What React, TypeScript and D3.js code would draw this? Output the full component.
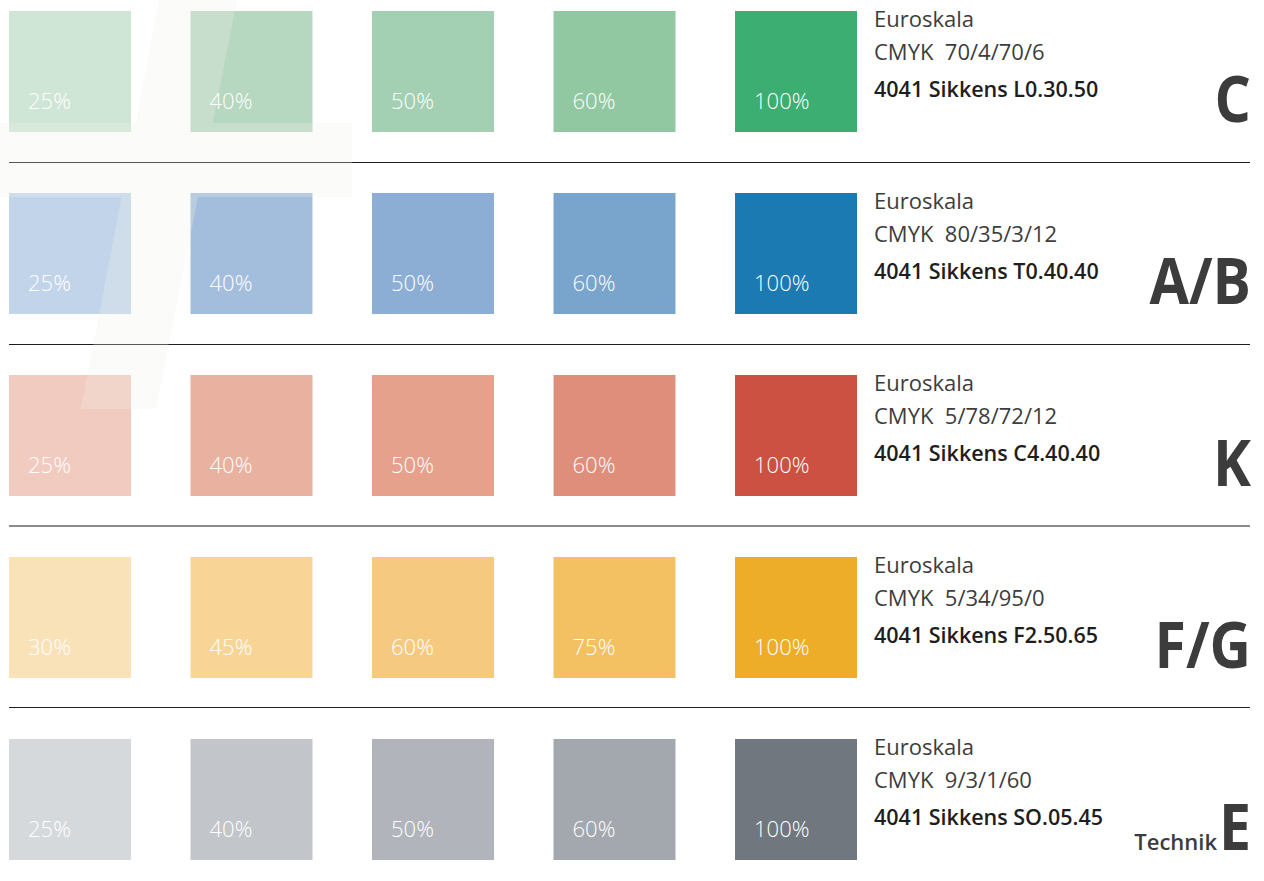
import React from 'react';
import * as d3 from 'd3';

// colour groups, one row each
const groups = ['C', 'A/B', 'K', 'F/G', 'E'];
const cmykValues = ['70/4/70/6', '80/35/3/12', '5/78/72/12', '5/34/95/0', '9/3/1/60'];
const sikkensCodes = ['L0.30.50', 'T0.40.40', 'C4.40.40', 'F2.50.65', 'SO.05.45'];

// tint percentages per row
const tints = [
  [25, 40, 50, 60, 100],
  [25, 40, 50, 60, 100],
  [25, 40, 50, 60, 100],
  [30, 45, 60, 75, 100],
  [25, 40, 50, 60, 100],
];

const swatchColors = [
  ['#cfe5d6', '#b6d7c0', '#a3cfb3', '#91c8a1', '#3dae72'],
  ['#c2d4e9', '#a3bedd', '#8daed4', '#79a5cc', '#1c7ab2'],
  ['#f1cbbf', '#e9b19f', '#e5a18c', '#df8e7c', '#cd5142'],
  ['#f9e1b8', '#f8d597', '#f5ca80', '#f3c062', '#eead28'],
  ['#d6d9dc', '#c2c5c9', '#b1b5bb', '#a3a8ae', '#70777e'],
];

const W = 1264;
const H = 881;
const FONT = "'Open Sans', 'Noto Sans', sans-serif";

export default function App() {
  const cols = d3.range(5);
  const x = d3.scaleBand<number>().domain(cols).range([9, 857]).paddingInner(0.328).paddingOuter(0);
  const y = d3.scaleBand<number>().domain(d3.range(groups.length)).range([11, 860]).paddingInner(0.335).paddingOuter(0);

  // faint logo watermark behind the upper rows
  const mark = d3.path();
  mark.moveTo(163, -20); mark.lineTo(241, -20); mark.lineTo(156, 409); mark.lineTo(81, 409); mark.closePath();
  mark.moveTo(0, 123); mark.lineTo(352, 123); mark.lineTo(352, 197); mark.lineTo(0, 197); mark.closePath();

  const textX = 874;
  const right = 1251;

  return (
    <svg width={W} height={H} style={{ position: 'absolute', left: 0, top: 0, background: '#fff' }} fontFamily={FONT}>
      {groups.map((g, r) => {
        const top = y(r)!;
        return (
          <g key={g}>
            {cols.map((c) => (
              <rect key={c} x={x(c)} y={top} width={x.bandwidth()} height={y.bandwidth()} fill={swatchColors[r][c]} />
            ))}
          </g>
        );
      })}

      {/* dividers, centred in the gap between rows */}
      {d3.range(1, groups.length).map((r) => {
        const mid = (y(r - 1)! + y.bandwidth() + y(r)!) / 2;
        const grey = r === 3;
        const yy = grey ? Math.round(mid) : Math.round(mid) - 0.5;
        return (
          <line key={r} x1={9} x2={1250} y1={yy} y2={yy}
            stroke={grey ? '#8c8c8c' : '#1e1e1e'} strokeWidth={grey ? 2 : 1} />
        );
      })}

      <path d={mark.toString()} fill="#f0f0ea" opacity={0.28} />

      {groups.map((g, r) => {
        const top = y(r)!;
        const base = top + 111;
        return (
          <g key={'t' + g}>
            {cols.map((c) => (
              <text key={c} x={x(c)! + 19} y={top + 98} fill="#fff" fontSize={22} fontWeight={300}>
                {tints[r][c]}%
              </text>
            ))}
            <text x={textX} y={top + 16} fontSize={22} fontWeight={500} fill="#3d3d3d">Euroskala</text>
            <text x={textX} y={top + 49} fontSize={22} fontWeight={500} fill="#3d3d3d" style={{ whiteSpace: 'pre' }}>
              {'CMYK  ' + cmykValues[r]}
            </text>
            <text x={textX} y={top + 86} fontSize={21.5} fontWeight={600} fill="#1e1e1e">
              {'4041 Sikkens ' + sikkensCodes[r]}
            </text>
            <text transform={`translate(${right},${base}) scale(0.88,1)`} textAnchor="end"
              fontSize={65} fontWeight={700} fill="#3c3c3c">
              {g}
            </text>
            {g === 'E' && (
              <text x={right - 34} y={base} textAnchor="end" fontSize={22} fontWeight={600} fill="#3c3c3c">
                Technik
              </text>
            )}
          </g>
        );
      })}
    </svg>
  );
}
